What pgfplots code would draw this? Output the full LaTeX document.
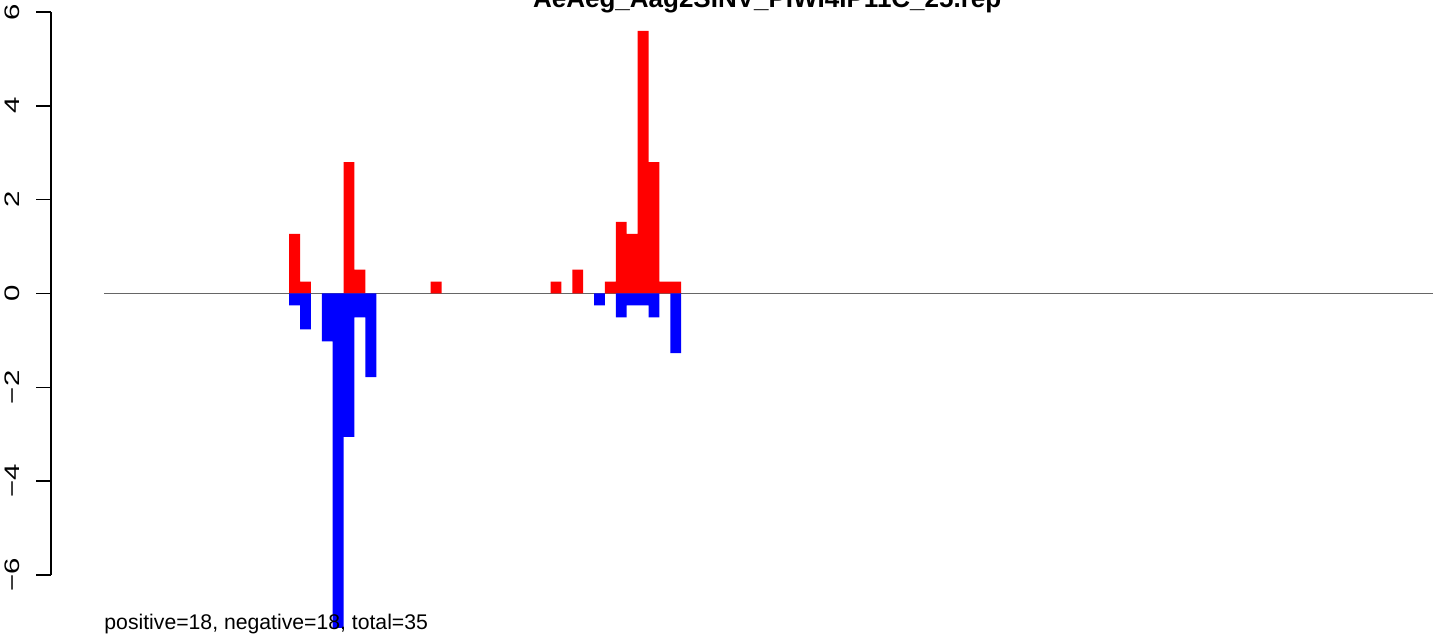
\documentclass[border=0pt]{standalone}
\usepackage{pgfplots}
\pgfplotsset{compat=1.18}
\usepackage{pgfplotstable}
\usepackage{fontspec}
\setmainfont{Liberation Sans}

\pgfplotstableread{
x y
17.5 1.273
18.5 0.2545
22.5 2.80
23.5 0.509
30.5 0.2545
41.5 0.2545
43.5 0.509
46.5 0.2545
47.5 1.527
48.5 1.273
49.5 5.60
50.5 2.80
51.5 0.2545
52.5 0.2545
}\pos

\pgfplotstableread{
x y
17.5 -0.2545
18.5 -0.764
20.5 -1.018
21.5 -7.127
22.5 -3.055
23.5 -0.509
24.5 -1.782
45.5 -0.2545
47.5 -0.509
48.5 -0.2545
49.5 -0.2545
50.5 -0.509
52.5 -1.273
}\negv

\newcommand{\rl}[1]{\rotatebox{90}{\scalebox{1.4}[1]{#1}}}

\begin{document}
\begin{tikzpicture}
\path[use as bounding box] (-25.5pt,-34pt) rectangle (696.5pt,287.5pt);
\begin{axis}[
  scale only axis,
  width=696.5pt, height=281.5pt,
  xmin=-4.87, xmax=123.05,
  ymin=-6, ymax=6,
  clip=false,
  axis x line=none,
  axis y line*=left,
  y axis line style={line width=0.8pt},
  ytick={-6,-4,-2,0,2,4,6},
  yticklabels={\rl{−6},\rl{−4},\rl{−2},\rl{0},\rl{2},\rl{4},\rl{6}},
  tick align=outside,
  major tick length=7.5pt,
  tick style={line width=0.8pt, black},
  yticklabel style={anchor=east, inner sep=0pt, xshift=-8pt, font=\fontsize{10.5}{12}\selectfont},
  /pgf/number format/assume math mode=true,
]
\addplot[color=black!60, line width=0.5pt] coordinates {(0,0) (122,0)};
\addplot[ybar, bar width=1, bar shift=0pt, fill=red, draw=none] table[x=x,y=y] {\pos};
\addplot[ybar, bar width=1, bar shift=0pt, fill=blue, draw=none] table[x=x,y=y] {\negv};
\node[anchor=base west, inner sep=0pt, font=\fontsize{10.6}{12}\selectfont] at (axis cs:0,-7.153) {positive=18, negative=18, total=35};
\node[anchor=base, inner sep=0pt, font=\bfseries\fontsize{13}{15}\selectfont] at (axis cs:60.9,6.10) {AeAeg\_Aag2SINV\_PIWI4IP11C\_25.rep};
\end{axis}
\end{tikzpicture}
\end{document}
